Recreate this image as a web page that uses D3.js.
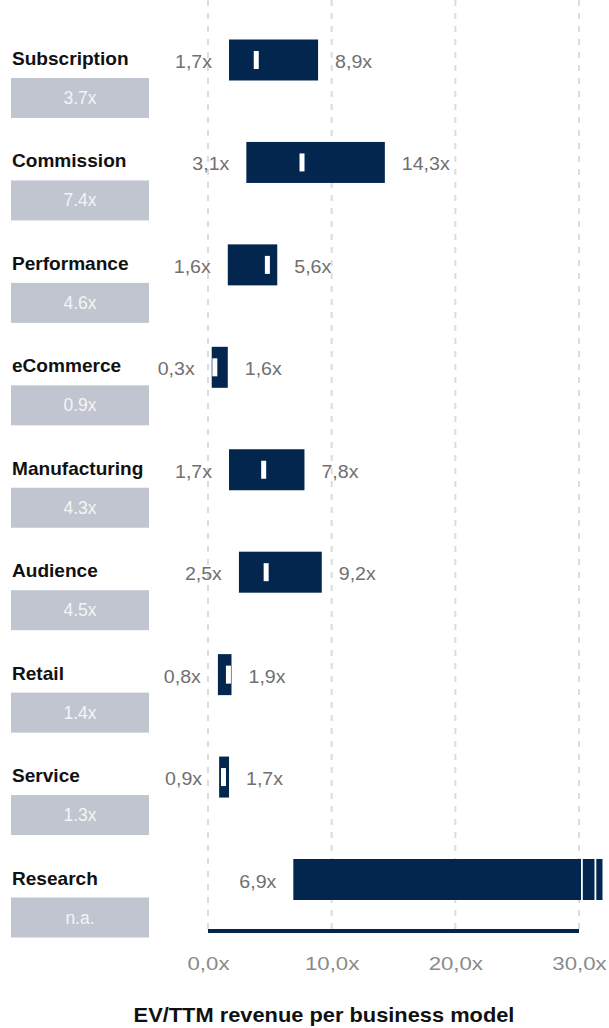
<!DOCTYPE html>
<html>
<head>
<meta charset="utf-8">
<script src="https://cdn.jsdelivr.net/npm/d3@7"></script>
<style>
  body { margin: 0; background: #fff; }
  svg { display: block; }
  text { font-family: "Liberation Sans", Arial, sans-serif; }
  .cat { font-weight: bold; font-size: 17.5px; fill: #111; }
  .val { font-size: 17.5px; fill: #707070; }
  .boxlabel { font-size: 17.5px; fill: #f4f5f7; }
  .ticklabel { font-size: 18.5px; fill: #8a8a8a; }
  .title { font-weight: bold; font-size: 19.5px; fill: #111; }
</style>
</head>
<body>
<svg width="609" height="1028"></svg>
<script>
const categories = ["Subscription", "Commission", "Performance", "eCommerce", "Manufacturing", "Audience", "Retail", "Service", "Research"];
const lowValues = [1.7, 3.1, 1.6, 0.3, 1.7, 2.5, 0.8, 0.9, 6.9];
const highValues = [8.9, 14.3, 5.6, 1.6, 7.8, 9.2, 1.9, 1.7, 31.9];
const highLabels = ["8,9x", "14,3x", "5,6x", "1,6x", "7,8x", "9,2x", "1,9x", "1,7x", null];
const medianLabels = ["3.7x", "7.4x", "4.6x", "0.9x", "4.3x", "4.5x", "1.4x", "1.3x", "n.a."];
const markerValues = [3.7, 7.4, 4.6, 0.35, 4.3, 4.5, 1.45, 1.05, null];
const tickValues = [0, 10, 20, 30];
const axisMax = 30;
const titleText = "EV/TTM revenue per business model";

const svg = d3.select("svg");
const navy = "#03264e";

const x = d3.scaleLinear().domain([0, axisMax]).range([208, 579]);
const y = d3.scalePoint().domain(categories).range([60, 879.5]);

const barH = 41;
const comma = d3.formatLocale({decimal: ",", thousands: ".", grouping: [3], currency: ["", ""]}).format(".1f");

// place text at (px,py) with a horizontal stretch to mimic the wider source font
function place(sel, px, py, sx) {
    sel.attr("transform", (d, i) => {
        const a = typeof px === "function" ? px(d, i) : px;
        const b = typeof py === "function" ? py(d, i) : py;
        return "translate(" + a + "," + b + ") scale(" + sx + ",1)";
    });
}

// gridlines
svg.append("g").selectAll("line")
    .data(tickValues)
    .enter().append("line")
    .attr("x1", d => x(d)).attr("x2", d => x(d))
    .attr("y1", 0).attr("y2", 930)
    .attr("stroke", "#dcdcdc")
    .attr("stroke-width", 2)
    .attr("stroke-dasharray", "6,7");

const rows = categories.map((c, i) => ({
    cat: c, lo: lowValues[i], hi: highValues[i],
    hiLabel: highLabels[i], med: medianLabels[i], marker: markerValues[i]
}));

const row = svg.append("g").selectAll("g")
    .data(rows)
    .enter().append("g")
    .attr("transform", d => "translate(0," + y(d.cat) + ")");

// category labels + grey boxes
row.append("text")
    .attr("class", "cat")
    .text(d => d.cat)
    .call(place, 12, 5, 1.09);

row.append("rect")
    .attr("x", 11).attr("y", 18)
    .attr("width", 138).attr("height", 40)
    .attr("fill", "#c1c5cf");

row.append("text")
    .attr("class", "boxlabel")
    .attr("x", 80).attr("y", 44)
    .attr("text-anchor", "middle")
    .text(d => d.med);

// range bars
row.append("rect")
    .attr("x", d => x(d.lo))
    .attr("y", -barH / 2)
    .attr("width", d => x(d.hi) - x(d.lo))
    .attr("height", barH)
    .attr("fill", navy);

// axis break for bars beyond the axis
row.filter(d => d.hi > axisMax).each(function() {
    const g = d3.select(this);
    [x(axisMax) + 2, x(axisMax) + 15.5].forEach(bx => {
        g.append("rect")
            .attr("x", bx).attr("y", -barH / 2 - 1)
            .attr("width", 1.8).attr("height", barH + 2)
            .attr("fill", "#fff");
    });
});

// markers
row.filter(d => d.marker != null).append("rect")
    .attr("x", d => x(d.marker))
    .attr("y", -9)
    .attr("width", 5)
    .attr("height", 18)
    .attr("fill", "#fff");

// value labels
row.append("text")
    .attr("class", "val")
    .attr("text-anchor", "end")
    .text(d => comma(d.lo) + "x")
    .call(place, d => x(d.lo) - 17, 8, 1.12);

row.filter(d => d.hiLabel != null).append("text")
    .attr("class", "val")
    .text(d => d.hiLabel)
    .call(place, d => x(d.hi) + 17, 8, 1.12);

// axis line
svg.append("rect")
    .attr("x", x(0)).attr("y", 929)
    .attr("width", x(axisMax) - x(0)).attr("height", 4)
    .attr("fill", navy);

const axis = d3.axisBottom(x)
    .tickValues(tickValues)
    .tickSize(0)
    .tickPadding(27)
    .tickFormat(d => comma(d) + "x");

svg.append("g")
    .attr("transform", "translate(0,930)")
    .call(axis)
    .call(g => g.select(".domain").remove())
    .call(g => g.selectAll(".tick text")
        .attr("class", "ticklabel")
        .attr("fill", null)
        .attr("y", null).attr("dy", null)
        .call(place, 0, 40, 1.2));

svg.append("text")
    .attr("class", "title")
    .attr("text-anchor", "middle")
    .text(titleText)
    .call(place, 324, 1022, 1.12);
</script>
</body>
</html>
